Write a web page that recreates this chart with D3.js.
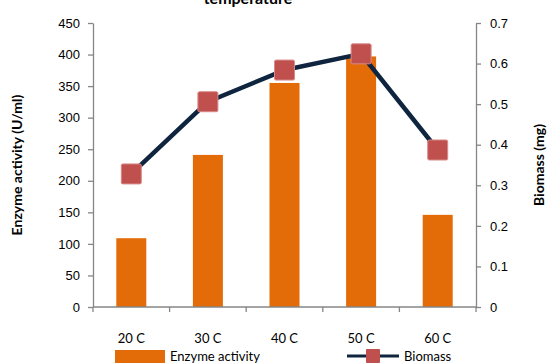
<!DOCTYPE html>
<html><head><meta charset="utf-8">
<script src="https://cdn.jsdelivr.net/npm/d3@7"></script>
<style>body{margin:0;background:#fff}svg{display:block;font-family:Lato,"Open Sans",sans-serif}</style>
</head><body>
<svg id="c" width="547" height="363"></svg>
<script>
const categories = ["20 C","30 C","40 C","50 C","60 C"];
const enzymeActivity = [109, 241, 355, 397, 146];
const biomass = [0.328, 0.506, 0.584, 0.624, 0.387];
const leftTicks = [0,50,100,150,200,250,300,350,400,450];
const rightTicks = [0,0.1,0.2,0.3,0.4,0.5,0.6,0.7];

const svg = d3.select("#c");
const L = 93, R = 476, T = 23, B = 307;
const x = d3.scaleBand().domain(categories).range([L, R]);
const yL = d3.scaleLinear().domain([0,450]).range([B, T]);
const yR = d3.scaleLinear().domain([0,0.7]).range([B, T]);
const axisColor = "#868686";

// title (cut off at top, as in the reference)
svg.append("text").attr("x", 248).attr("y", 4).attr("text-anchor","middle")
  .attr("font-weight","bold").attr("font-size",16).attr("fill","#000").text("temperature");

// bars
const bw = 30;
svg.selectAll("rect.bar").data(enzymeActivity).enter().append("rect")
  .attr("x",(d,i)=>x(categories[i])+x.bandwidth()/2-bw/2)
  .attr("y",d=>yL(d)).attr("width",bw).attr("height",d=>B-yL(d))
  .attr("fill","#e36c09");

// axes
function styleAxis(g){
  g.selectAll("path,line").attr("stroke",axisColor).attr("stroke-width",1.3);
  g.selectAll("text").attr("fill","#000").attr("font-size",13);
}
const ga = svg.append("g").attr("transform",`translate(${L},0)`)
  .call(d3.axisLeft(yL).tickValues(leftTicks).tickSize(5).tickSizeOuter(0).tickPadding(8));
styleAxis(ga);
const gr = svg.append("g").attr("transform",`translate(${R},0)`)
  .call(d3.axisRight(yR).tickValues(rightTicks).tickFormat(d=>d===0?"0":d3.format(".1f")(d)).tickSize(5).tickSizeOuter(0).tickPadding(9));
styleAxis(gr);
// x axis
const gx = svg.append("g").attr("transform",`translate(0,${B})`);
gx.append("line").attr("x1",L).attr("x2",R).attr("stroke",axisColor).attr("stroke-width",1.3);
const bounds = categories.map(c=>x(c)).concat([R]);
gx.selectAll("line.t").data(bounds).enter().append("line")
  .attr("x1",d=>d).attr("x2",d=>d).attr("y1",0).attr("y2",5)
  .attr("stroke",axisColor).attr("stroke-width",1.3);
gx.selectAll("text").data(categories).enter().append("text")
  .attr("x",d=>x(d)+x.bandwidth()/2).attr("y",36).attr("text-anchor","middle")
  .attr("font-size",13).attr("fill","#000").text(d=>d);

// line
const line = d3.line().x((d,i)=>x(categories[i])+x.bandwidth()/2).y(d=>yR(d));
svg.append("path").datum(biomass).attr("d",line).attr("fill","none")
  .attr("stroke","#0f243e").attr("stroke-width",4.5).attr("stroke-linejoin","round");
const ms = 20;
svg.selectAll("rect.m").data(biomass).enter().append("rect")
  .attr("x",(d,i)=>x(categories[i])+x.bandwidth()/2-ms/2).attr("y",d=>yR(d)-ms/2)
  .attr("width",ms).attr("height",ms).attr("rx",1.5)
  .attr("fill","#c0504d").attr("stroke","#d98a88").attr("stroke-width",1);

// axis titles
svg.append("text").attr("transform",`translate(22,${(T+B)/2}) rotate(-90)`)
  .attr("text-anchor","middle").attr("font-weight","bold").attr("font-size",14).text("Enzyme activity (U/ml)");
svg.append("text").attr("transform",`translate(544,${(T+B)/2}) rotate(-90)`)
  .attr("text-anchor","middle").attr("font-weight","bold").attr("font-size",14).text("Biomass (mg)");

// legend
const ly = 356;
svg.append("rect").attr("x",115).attr("y",ly-6).attr("width",50).attr("height",13).attr("fill","#e36c09");
svg.append("text").attr("x",170).attr("y",ly+5).attr("font-size",13).text("Enzyme activity");
svg.append("line").attr("x1",347).attr("x2",399).attr("y1",ly).attr("y2",ly).attr("stroke","#0f243e").attr("stroke-width",3);
svg.append("rect").attr("x",366).attr("y",ly-7).attr("width",14).attr("height",14).attr("rx",1).attr("fill","#c0504d");
svg.append("text").attr("x",404).attr("y",ly+5).attr("font-size",13).text("Biomass");
</script>
</body></html>
